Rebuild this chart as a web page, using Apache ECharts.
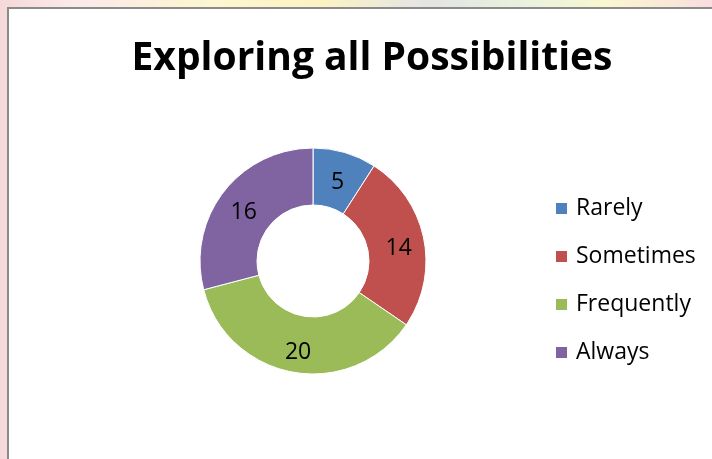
<!DOCTYPE html>
<html><head><meta charset="utf-8">
<script src="https://cdn.jsdelivr.net/npm/echarts@6/dist/echarts.min.js"></script>
<style>
html,body{margin:0;padding:0;width:712px;height:459px;overflow:hidden;
background:linear-gradient(90deg,#f6d8d8 0%,#fbe9ea 10%,#fdf6cf 30%,#fcf3c4 45%,#e4e4e4 60%,#e9f3dc 75%,#fbf6d0 85%,#f8dede 100%);}
#frame{position:absolute;left:7px;top:7px;width:720px;height:470px;border:2px solid #8a8a8a;background:#fff;}
#chart{position:absolute;left:0;top:0;width:712px;height:459px;}
</style></head>
<body>
<div id="frame"></div>
<div id="chart"></div>
<script>
const categories = ["Rarely","Sometimes","Frequently","Always"];
const values = [5,14,20,16];
const colors = ["#4F81BD","#C0504D","#9BBB59","#8064A2"];
const titleText = "Exploring all Possibilities";

const FONT = '"Open Sans", "Noto Sans", sans-serif';
const chart = echarts.init(document.getElementById('chart'), null, {renderer:'canvas'});
chart.setOption({
  animation:false,
  title:{text:titleText,left:367,top:34,textAlign:'center',
    textStyle:{fontFamily:FONT,fontWeight:'bold',fontSize:39,color:'#000'}},
  legend:{orient:'vertical',left:554,top:197,padding:0,itemWidth:13,itemHeight:13,itemGap:25,
    icon:'rect',
    textStyle:{fontFamily:FONT,fontSize:23,color:'#000',padding:[0,0,0,3]},
    data:categories},
  series:[{
    type:'pie',
    center:[313,261],
    radius:[56,113],
    startAngle:90,
    clockwise:true,
    label:{show:true,position:'inside',formatter:'{v|{c}}',
      rich:{v:{fontFamily:FONT,fontSize:23,color:'#000',padding:[10,0,0,0]}}},
    labelLine:{show:false},
    itemStyle:{borderColor:'#fff',borderWidth:1},
    emphasis:{disabled:true},
    data:categories.map((c,i)=>({name:c,value:values[i],itemStyle:{color:colors[i]}}))
  }]
});
</script>
</body></html>
